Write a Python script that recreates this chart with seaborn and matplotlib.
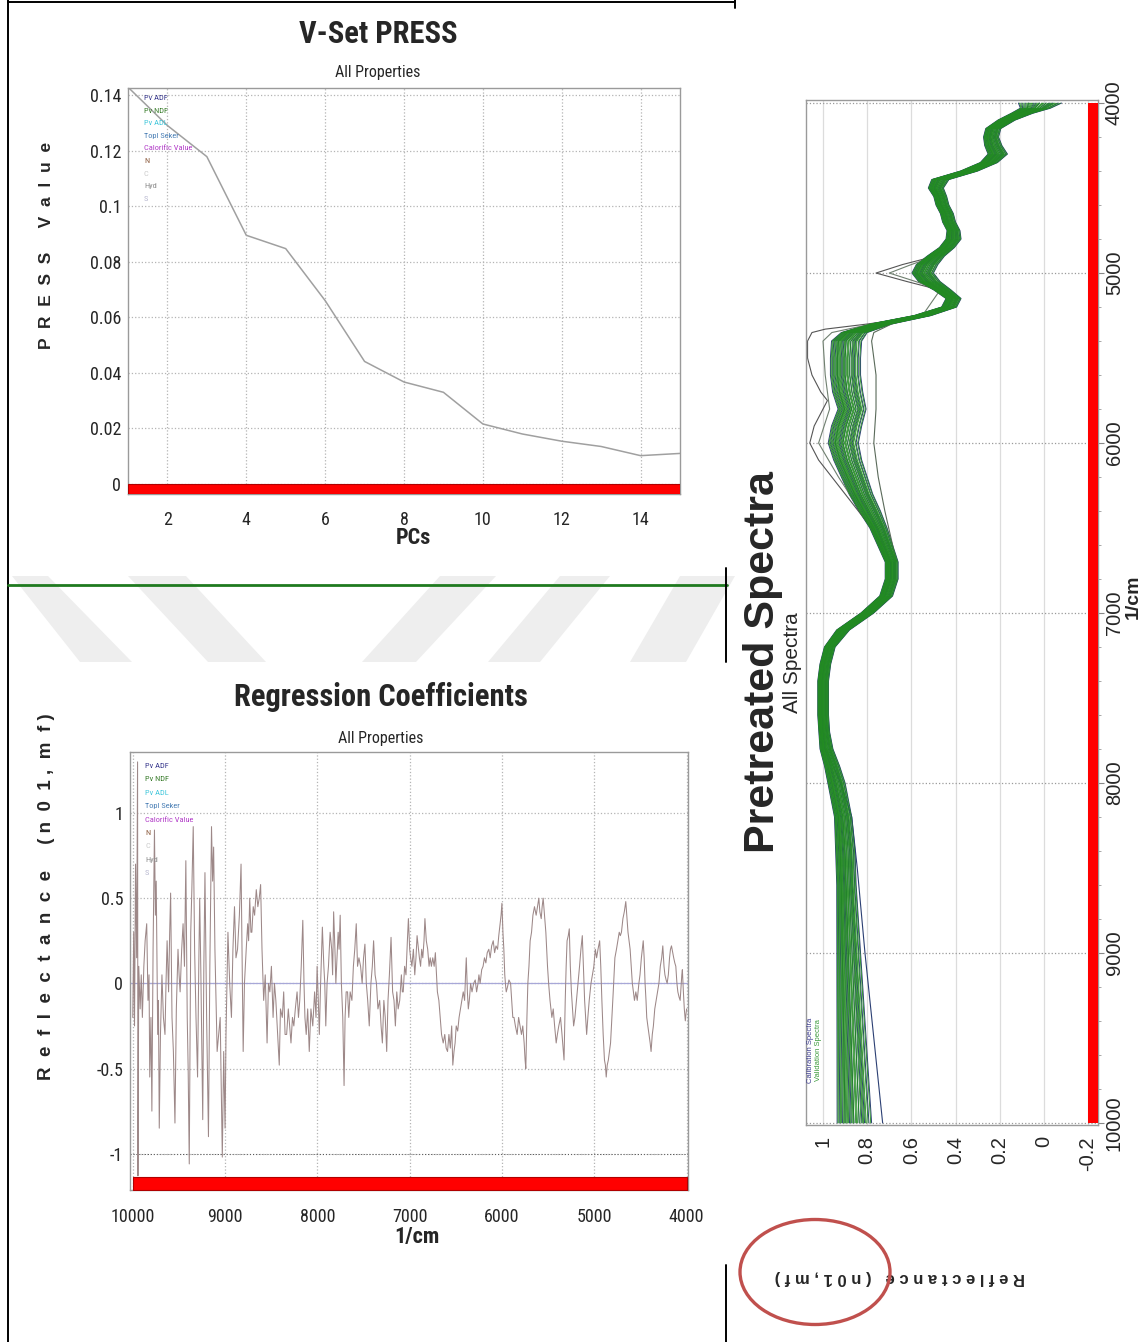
import os
import numpy as np
import pandas as pd
import matplotlib
matplotlib.use("Agg")
import matplotlib.pyplot as plt
import seaborn as sns
from matplotlib import font_manager as fm
from matplotlib.lines import Line2D
from matplotlib.patches import Ellipse, Polygon
from matplotlib.ticker import MultipleLocator, FixedLocator, FuncFormatter

# ---------------- data ----------------
PCS = list(range(1, 16))
PRESS = [0.1428, 0.129, 0.1178, 0.0895, 0.0847, 0.066, 0.0441, 0.0367,
         0.033, 0.0216, 0.018, 0.0154, 0.0135, 0.0102, 0.011]

PROPERTY_NAMES = ["Pv ADF", "Pv NDF", "Pv ADL", "Topl Seker", "Calorific Value",
                  "N", "C", "Hyd", "S"]
PROPERTY_COLORS = ["#3b3b8f", "#3a7d2c", "#45c8dc", "#4a7fb5", "#b23cc8",
                   "#8b5a3c", "#cccccc", "#8c8c8c", "#b8b8d0"]

REG_WN = [
    10000, 9990, 9981, 9970, 9958, 9948, 9944, 9935, 9920, 9908,
    9896, 9880, 9866, 9849, 9835, 9824, 9816, 9803, 9793, 9780,
    9765, 9755, 9746, 9730, 9722, 9713, 9700, 9684, 9668, 9651,
    9640, 9628, 9612, 9600, 9590, 9575, 9560, 9543, 9528, 9510,
    9498, 9487, 9470, 9455, 9440, 9425, 9410, 9400, 9388, 9372,
    9360, 9345, 9330, 9315, 9298, 9285, 9275, 9262, 9242, 9230,
    9218, 9200, 9180, 9165, 9147, 9135, 9124, 9110, 9098, 9086,
    9070, 9053, 9042, 9030, 9015, 9000, 8990, 8980, 8969, 8950,
    8931, 8915, 8898, 8882, 8865, 8845, 8827, 8815, 8804, 8790,
    8771, 8755, 8745, 8733, 8720, 8710, 8695, 8680, 8662, 8645,
    8630, 8615, 8600, 8582, 8565, 8545, 8530, 8515, 8498, 8480,
    8465, 8450, 8430, 8413, 8400, 8380, 8365, 8350, 8333, 8315,
    8300, 8286, 8270, 8255, 8239, 8220, 8205, 8191, 8175, 8158,
    8145, 8135, 8121, 8105, 8088, 8070, 8050, 8030, 8015, 8003,
    7990, 7979, 7965, 7946, 7930, 7920, 7909, 7895, 7880, 7862,
    7845, 7835, 7824, 7810, 7800, 7791, 7775, 7765, 7753, 7740,
    7725, 7711, 7700, 7688, 7673, 7660, 7645, 7626, 7610, 7595,
    7579, 7565, 7550, 7532, 7515, 7500, 7485, 7470, 7455, 7438,
    7420, 7405, 7391, 7375, 7360, 7344, 7325, 7310, 7296, 7280,
    7265, 7249, 7235, 7220, 7202, 7185, 7170, 7155, 7140, 7125,
    7108, 7090, 7080, 7070, 7055, 7040, 7025, 7014, 7000, 6990,
    6976, 6960, 6945, 6932, 6920, 6905, 6895, 6882, 6870, 6858,
    6845, 6835, 6820, 6805, 6790, 6778, 6765, 6750, 6735, 6722,
    6710, 6700, 6684, 6670, 6655, 6637, 6620, 6605, 6590, 6575,
    6560, 6545, 6533, 6520, 6508, 6496, 6480, 6465, 6449, 6435,
    6420, 6405, 6395, 6387, 6375, 6365, 6354, 6340, 6325, 6307,
    6290, 6275, 6260, 6250, 6237, 6220, 6205, 6190, 6175, 6160,
    6143, 6128, 6112, 6095, 6080, 6065, 6048, 6035, 6020, 6010,
    6001, 5990, 5980, 5970, 5960, 5954, 5940, 5925, 5907, 5895,
    5883, 5870, 5855, 5836, 5820, 5805, 5789, 5775, 5760, 5750,
    5742, 5730, 5720, 5708, 5695, 5680, 5665, 5648, 5630, 5615,
    5601, 5590, 5575, 5565, 5554, 5540, 5525, 5507, 5495, 5480,
    5460, 5445, 5430, 5413, 5400, 5385, 5366, 5350, 5338, 5328,
    5315, 5305, 5295, 5282, 5271, 5260, 5248, 5236, 5224, 5210,
    5195, 5177, 5160, 5145, 5130, 5118, 5105, 5094, 5083, 5070,
    5055, 5036, 5020, 5005, 4989, 4975, 4960, 4942, 4930, 4918,
    4904, 4890, 4880, 4871, 4860, 4848, 4836, 4824, 4810, 4795,
    4777, 4760, 4745, 4730, 4718, 4706, 4690, 4675, 4659, 4648,
    4635, 4624, 4612, 4600, 4588, 4576, 4565, 4550, 4535, 4517,
    4505, 4490, 4480, 4470, 4460, 4450, 4440, 4432, 4420, 4408,
    4395, 4385, 4372, 4360, 4345, 4329, 4315, 4300, 4285, 4270,
    4258, 4245, 4235, 4222, 4211, 4198, 4185, 4175, 4164, 4150,
    4140, 4128, 4117, 4105, 4095, 4082, 4070, 4060, 4052, 4046,
    4035, 4025, 4014, 4007, 4000,
]
REG_COEF = [
    -0.20, 0.30, -0.25, 0.70, 0.15, 1.30, -1.13, 0.10, -0.15, 0.05,
    -0.20, 0.10, 0.25, 0.35, -0.10, 0.05, -0.55, -0.20, -0.75, 0.20,
    0.90, 0.40, 0.60, -0.30, -0.10, -0.85, -0.30, 0.05, -0.20, -0.30,
    0.00, 0.25, -0.05, 0.30, 0.53, -0.20, -0.40, -0.82, -0.15, 0.20,
    0.05, -0.05, 0.20, 0.35, 0.10, 0.72, -0.20, -0.50, -1.06, 0.30,
    0.55, 0.92, 0.20, -0.20, -0.55, 0.10, 0.50, 0.05, -0.80, 0.10,
    0.65, -0.20, -0.90, 0.10, 0.92, 0.60, 0.80, 0.20, -0.10, -0.40,
    -0.30, -0.20, -0.60, -1.02, -0.40, -0.85, -0.30, 0.00, 0.30, 0.00,
    -0.20, 0.20, 0.45, 0.15, 0.20, 0.40, 0.70, 0.10, -0.40, 0.00,
    0.20, 0.35, 0.25, 0.50, 0.30, 0.30, 0.45, 0.40, 0.55, 0.45,
    0.50, 0.58, 0.20, -0.10, 0.05, -0.35, 0.00, -0.05, 0.10, -0.20,
    0.00, -0.10, -0.30, -0.48, -0.15, -0.20, -0.05, -0.30, -0.30, -0.15,
    -0.25, -0.35, -0.20, -0.25, -0.15, -0.05, -0.20, -0.10, 0.10, 0.37,
    0.00, -0.20, -0.30, -0.15, -0.40, -0.15, -0.25, -0.05, -0.20, 0.10,
    -0.10, -0.30, 0.00, 0.33, 0.10, 0.00, -0.25, 0.00, 0.10, 0.30,
    0.20, 0.05, 0.42, 0.20, 0.00, 0.10, 0.30, 0.20, 0.40, 0.00,
    -0.20, -0.60, -0.20, -0.05, -0.05, -0.20, -0.05, -0.10, 0.10, 0.20,
    0.35, 0.10, 0.15, 0.10, 0.00, 0.15, 0.23, 0.00, -0.10, -0.25,
    0.00, 0.10, 0.25, 0.05, 0.00, -0.15, -0.10, -0.25, -0.35, -0.10,
    -0.20, -0.40, -0.10, 0.05, 0.27, -0.05, -0.10, -0.25, -0.05, -0.15,
    -0.10, 0.05, -0.05, -0.05, 0.10, 0.05, 0.25, 0.38, 0.20, 0.15,
    0.10, 0.20, 0.05, 0.15, 0.28, 0.20, 0.15, 0.10, 0.20, 0.15,
    0.25, 0.38, 0.25, 0.20, 0.10, 0.15, 0.10, 0.15, 0.10, 0.18,
    0.05, -0.05, -0.10, -0.20, -0.30, -0.35, -0.30, -0.38, -0.40, -0.30,
    -0.38, -0.25, -0.48, -0.40, -0.35, -0.25, -0.28, -0.20, -0.15, -0.10,
    -0.05, -0.10, 0.05, 0.15, -0.05, -0.15, -0.10, 0.00, -0.05, 0.00,
    0.02, -0.05, 0.00, 0.05, 0.00, 0.08, 0.10, 0.15, 0.12, 0.18,
    0.20, 0.15, 0.22, 0.25, 0.18, 0.22, 0.20, 0.28, 0.35, 0.40,
    0.47, 0.30, 0.20, 0.05, -0.02, -0.05, -0.02, 0.02, 0.00, -0.10,
    -0.20, -0.20, -0.25, -0.30, -0.20, -0.25, -0.30, -0.25, -0.35, -0.45,
    -0.50, -0.20, 0.00, 0.10, 0.25, 0.30, 0.40, 0.45, 0.40, 0.45,
    0.50, 0.42, 0.38, 0.45, 0.50, 0.40, 0.30, 0.10, 0.00, -0.10,
    -0.20, -0.15, -0.25, -0.35, -0.30, -0.25, -0.20, -0.30, -0.38, -0.45,
    -0.10, 0.10, 0.25, 0.28, 0.32, 0.10, -0.05, -0.15, -0.25, -0.20,
    -0.10, 0.00, 0.10, 0.20, 0.28, 0.10, -0.10, -0.20, -0.30, -0.20,
    -0.10, 0.00, 0.05, 0.10, 0.20, 0.15, 0.20, 0.25, 0.10, -0.10,
    -0.30, -0.45, -0.48, -0.55, -0.48, -0.45, -0.40, -0.35, -0.20, -0.05,
    0.15, 0.20, 0.25, 0.30, 0.28, 0.30, 0.38, 0.42, 0.48, 0.40,
    0.30, 0.25, 0.20, 0.10, 0.00, -0.05, -0.10, -0.05, -0.10, 0.00,
    0.05, 0.15, 0.20, 0.25, 0.15, 0.00, -0.10, -0.20, -0.25, -0.30,
    -0.35, -0.40, -0.30, -0.25, -0.15, -0.10, -0.05, 0.00, 0.10, 0.15,
    0.22, 0.10, 0.05, 0.02, 0.00, 0.05, 0.15, 0.20, 0.22, 0.18,
    0.15, 0.12, 0.10, 0.00, -0.05, -0.08, -0.10, -0.02, 0.05, 0.08,
    -0.05, -0.15, -0.22, -0.18, -0.15,
]

# pretreated spectra: band centre and half-width per wavenumber
SPEC_WN = [4000, 4030, 4060, 4100, 4150, 4200, 4250, 4300, 4350, 4400,
           4450, 4500, 4550, 4600, 4650, 4700, 4750, 4800, 4850, 4900,
           4950, 5000, 5050, 5100, 5150, 5200, 5250, 5300, 5350, 5400,
           5500, 5600, 5700, 5800, 5900, 6000, 6100, 6200, 6300, 6400,
           6500, 6600, 6700, 6800, 6900, 7000, 7100, 7200, 7300, 7400,
           7500, 7600, 7700, 7800, 7900, 8000, 8200, 8400, 8600, 8800,
           9000, 9200, 9400, 9600, 9800, 10000]
SPEC_CENTER = [0.02, 0.04, 0.10, 0.17, 0.23, 0.24, 0.23, 0.21, 0.25, 0.34,
               0.47, 0.49, 0.47, 0.46, 0.44, 0.43, 0.41, 0.41, 0.44, 0.49,
               0.53, 0.55, 0.52, 0.46, 0.41, 0.43, 0.55, 0.74, 0.86, 0.895,
               0.90, 0.90, 0.89, 0.87, 0.895, 0.91, 0.89, 0.86, 0.83, 0.79,
               0.75, 0.72, 0.69, 0.69, 0.715, 0.80, 0.91, 0.97, 0.99, 1.00,
               1.00, 1.00, 0.995, 0.985, 0.96, 0.94, 0.91, 0.90, 0.895, 0.89,
               0.885, 0.88, 0.875, 0.87, 0.865, 0.86]
SPEC_HALF = [0.10, 0.07, 0.05, 0.04, 0.035, 0.035, 0.04, 0.045, 0.04, 0.04,
             0.04, 0.035, 0.03, 0.03, 0.03, 0.03, 0.03, 0.035, 0.035, 0.04,
             0.05, 0.05, 0.05, 0.04, 0.035, 0.035, 0.04, 0.05, 0.06, 0.07,
             0.07, 0.07, 0.07, 0.065, 0.07, 0.07, 0.065, 0.06, 0.055, 0.05,
             0.04, 0.035, 0.03, 0.03, 0.03, 0.03, 0.03, 0.025, 0.025, 0.025,
             0.025, 0.025, 0.025, 0.03, 0.035, 0.04, 0.04, 0.045, 0.045, 0.05,
             0.055, 0.06, 0.065, 0.07, 0.075, 0.08]
# position of each sample inside the band (-1 .. 1)
CAL_POS = [-1.0, -0.85, -0.6, -0.3, 0.0, 0.25, 0.5, 0.8, 0.95, -0.45, 0.15, 0.65]
VAL_POS = [-0.95, -0.8, -0.7, -0.55, -0.4, -0.3, -0.2, -0.1, 0.0, 0.05, 0.1,
           0.2, 0.3, 0.35, 0.4, 0.5, 0.6, 0.7, 0.75, 0.85, 0.9, -0.65, -0.15,
           0.45, -0.5, 0.55]

# individual spectra that leave the band
OUT_A_WN = [4900, 4950, 5000, 5050, 5100, 5150, 5200, 5250, 5300, 5330, 5350,
            5400, 5500, 5600, 5700, 5750, 5800, 5900, 6000, 6100, 6200, 6300,
            6400, 6500, 6600]
OUT_A_REFL = [0.49, 0.64, 0.76, 0.62, 0.47, 0.40, 0.41, 0.52, 0.80, 0.99, 1.05,
              1.07, 1.07, 1.05, 1.01, 0.98, 1.00, 1.04, 1.06, 1.02, 0.96, 0.90,
              0.84, 0.78, 0.73]
OUT_B_WN = [4900, 4950, 5000, 5050, 5100, 5250, 5300, 5350, 5400, 5600, 5800,
            6000, 6200, 6400, 6500]
OUT_B_REFL = [0.49, 0.60, 0.70, 0.58, 0.47, 0.55, 0.78, 0.96, 1.00, 0.99, 0.97,
              1.02, 0.93, 0.83, 0.77]
OUT_C_WN = [5250, 5300, 5350, 5400, 5600, 5800, 6000, 6200, 6400, 6600, 6700]
OUT_C_REFL = [0.55, 0.69, 0.77, 0.78, 0.76, 0.76, 0.77, 0.75, 0.72, 0.685, 0.67]
OUT_D_WN = [7800, 7900, 8000, 8200, 8500, 9000, 9500, 10000]
OUT_D_REFL = [0.985, 0.955, 0.92, 0.87, 0.845, 0.81, 0.77, 0.73]

SPECTRA_LEGEND = ["Calibration Spectra", "Validation Spectra"]

# ---------------- style ----------------
sns.set_style("white")
plt.rcParams["font.family"] = ["Liberation Sans", "DejaVu Sans"]


def find_condensed(weight):
    cands = [("Liberation Sans Narrow", "normal"), ("Arial Narrow", "normal"),
             ("Roboto Condensed", "normal"), ("Open Sans Condensed", "normal"),
             ("DejaVu Sans", "condensed"), ("Noto Sans", "condensed"),
             ("Open Sans", "condensed"), ("Roboto", "condensed"), ("Inter", "condensed")]
    for fam, st in cands:
        try:
            path = fm.findfont(fm.FontProperties(family=fam, stretch=st, weight=weight),
                               fallback_to_default=False)
        except Exception:
            continue
        base = os.path.basename(path).lower()
        if "narrow" in base or "cond" in base:
            return path
    return None


NARROW_REG = find_condensed("normal")
NARROW_BOLD = find_condensed("bold") or NARROW_REG
SHRINK = 1.0 if NARROW_REG else 0.8


def nfont(size, bold=False):
    path = NARROW_BOLD if bold else NARROW_REG
    if path:
        fp = fm.FontProperties(fname=path)
    else:
        fp = fm.FontProperties(family="Liberation Sans",
                               weight="bold" if bold else "normal")
    fp.set_size(size * SHRINK)
    return fp


W, H = 1141, 1342
fig = plt.figure(figsize=(W / 100, H / 100), dpi=100)
fig.patch.set_facecolor("white")


def fx(x):
    return x / W


def fy(y):
    return 1 - y / H


def axes_px(left, top, right, bottom):
    return fig.add_axes([fx(left), fy(bottom), (right - left) / W, (bottom - top) / H])


RED = "#ff0000"
FRAME = "#9a9a9a"
GRID = "#b4b4b4"

# page decoration: watermark stripes and rules
for poly in [[(12, 576), (48, 576), (132, 662), (80, 662)],
             [(128, 576), (186, 576), (266, 662), (208, 662)],
             [(440, 576), (496, 576), (416, 662), (362, 662)],
             [(560, 576), (610, 576), (540, 662), (488, 662)],
             [(680, 576), (735, 576), (686, 662), (630, 662)]]:
    fig.add_artist(Polygon([(fx(a), fy(b)) for a, b in poly], closed=True,
                           transform=fig.transFigure, facecolor="#eeeeee",
                           edgecolor="none", zorder=-5))


def rule(x0, y0, x1, y1, color="black", lw=1.4):
    fig.add_artist(Line2D([fx(x0), fx(x1)], [fy(y0), fy(y1)], transform=fig.transFigure,
                          color=color, lw=lw, zorder=5))


rule(8, 2, 735, 2)
rule(735, 0, 735, 8)
rule(8, 0, 8, H)
rule(8, 585, 727, 585, color="#1f7a1f", lw=2)
rule(726, 568, 726, 662)
rule(726, 1265, 726, H)


def style_frame(ax):
    for s in ax.spines.values():
        s.set_color(FRAME)
        s.set_linewidth(1.0)


def narrow_ticks(ax, size):
    for t in ax.get_xticklabels() + ax.get_yticklabels():
        t.set_fontproperties(nfont(size))


gfmt = FuncFormatter(lambda v, _: f"{round(v, 6):g}")

# ---------------- V-Set PRESS ----------------
ax1 = axes_px(128, 88, 680, 494)
sns.lineplot(x=PCS, y=PRESS, ax=ax1, color="#a0a0a0", lw=1.1)
ax1.set_xlim(1, 15)
ax1.set_ylim(-0.0036, 0.1425)
ax1.axhspan(-0.0036, 0.0, facecolor=RED, edgecolor="#b00000", lw=0.8, zorder=3)
ax1.xaxis.set_major_locator(FixedLocator(list(range(2, 15, 2))))
ax1.xaxis.set_minor_locator(MultipleLocator(0.5))
ax1.yaxis.set_major_locator(MultipleLocator(0.02))
ax1.yaxis.set_minor_locator(MultipleLocator(0.004))
ax1.yaxis.set_major_formatter(gfmt)
ax1.grid(True, which="major", ls=":", color=GRID, lw=0.9)
ax1.tick_params(which="major", length=3, color="#888888", pad=2)
ax1.tick_params(axis="x", which="major", pad=9)
ax1.tick_params(which="minor", length=2, color="#999999")
style_frame(ax1)
ax1.set_xlabel("")
ax1.set_ylabel("")
narrow_ticks(ax1, 13)
for i, (nm, c) in enumerate(zip(PROPERTY_NAMES, PROPERTY_COLORS)):
    fig.text(fx(144), fy(98 + 12.6 * i), nm, fontproperties=nfont(6), color=c,
             va="center", ha="left")

fig.text(fx(378), fy(34), "V-Set PRESS", fontproperties=nfont(22, True),
         ha="center", va="center")
fig.text(fx(378), fy(73), "All Properties", fontproperties=nfont(11.5),
         ha="center", va="center")
fig.text(fx(413), fy(538), "PCs", fontproperties=nfont(16, True),
         ha="center", va="center")
fig.text(fx(47), fy(245), "P  R  E  S  S     V  a  l  u  e", fontsize=12.5,
         fontweight="bold", rotation=90, ha="center", va="center")

# ---------------- Regression Coefficients ----------------
ax2 = axes_px(130, 752, 688, 1190)
ax2.axhline(0, color="#a8a8d8", lw=0.9, zorder=1)
ax2.axhline(-1, color="#555555", lw=0.7, ls=(0, (1, 2)), zorder=1)
sns.lineplot(x=REG_WN, y=REG_COEF, ax=ax2, color="#9d8888", lw=0.75, zorder=2)
ax2.set_xlim(10030, 3985)
ax2.set_ylim(-1.213, 1.358)
ax2.fill_between([10000, 4000], -1.213, -1.137, facecolor=RED, edgecolor="#b00000",
                 lw=0.8, zorder=3)
ax2.xaxis.set_major_locator(MultipleLocator(1000))
ax2.xaxis.set_minor_locator(MultipleLocator(200))
ax2.yaxis.set_major_locator(FixedLocator([-1, -0.5, 0, 0.5, 1]))
ax2.yaxis.set_minor_locator(MultipleLocator(0.1))
ax2.yaxis.set_major_formatter(gfmt)
ax2.xaxis.set_major_formatter(FuncFormatter(lambda v, _: f"{int(round(v))}"))
ax2.grid(True, which="major", ls=":", color=GRID, lw=0.9)
ax2.tick_params(which="major", length=3, color="#888888", pad=2)
ax2.tick_params(axis="x", which="major", pad=10)
ax2.tick_params(which="minor", length=2, color="#999999")
style_frame(ax2)
ax2.set_xlabel("")
ax2.set_ylabel("")
narrow_ticks(ax2, 13)
for i, (nm, c) in enumerate(zip(PROPERTY_NAMES, PROPERTY_COLORS)):
    fig.text(fx(145), fy(766 + 13.4 * i), nm, fontproperties=nfont(6), color=c,
             va="center", ha="left")

fig.text(fx(381), fy(697), "Regression Coefficients", fontproperties=nfont(22, True),
         ha="center", va="center")
fig.text(fx(381), fy(739), "All Properties", fontproperties=nfont(11.5),
         ha="center", va="center")
fig.text(fx(417), fy(1237), "1/cm", fontproperties=nfont(16, True),
         ha="center", va="center")
fig.text(fx(47), fy(897), "R  e  f  l  e  c  t  a  n  c  e     ( n  0  1 ,  m  f )",
         fontsize=13.5, fontweight="bold", rotation=90, ha="center", va="center")

# ---------------- Pretreated Spectra (turned on its side) ----------------
ax3 = axes_px(806, 100, 1098, 1125)
wn = np.array(SPEC_WN, dtype=float)
cen = np.array(SPEC_CENTER)
half = np.array(SPEC_HALF)


def band_frame(positions, tag):
    rows = []
    for k, p in enumerate(positions):
        rows.append(pd.DataFrame({"wn": wn, "refl": cen + p * half,
                                  "sample": f"{tag}{k}"}))
    return pd.concat(rows, ignore_index=True)


cal = band_frame(CAL_POS, "c")
val = band_frame(VAL_POS, "v")
sns.lineplot(data=cal, x="refl", y="wn", units="sample", estimator=None, orient="y",
             color="#2b3f73", lw=0.7, ax=ax3, zorder=2)
sns.lineplot(data=val, x="refl", y="wn", units="sample", estimator=None, orient="y",
             color="#228b22", lw=0.6, ax=ax3, zorder=3)
for w_, r_, c_ in [(OUT_A_WN, OUT_A_REFL, "#555555"), (OUT_B_WN, OUT_B_REFL, "#6f7f6f"),
                   (OUT_C_WN, OUT_C_REFL, "#5a6a5a"), (OUT_D_WN, OUT_D_REFL, "#2b3f73")]:
    sns.lineplot(x=r_, y=w_, orient="y", color=c_, lw=0.8, ax=ax3, zorder=2)

ax3.set_xlim(1.077, -0.245)
ax3.set_ylim(10012, 3982)
ax3.fill_betweenx([4000, 10000], -0.2, -0.245, facecolor=RED, edgecolor="none", zorder=4)
ax3.xaxis.set_major_locator(FixedLocator([1, 0.8, 0.6, 0.4, 0.2, 0, -0.2]))
ax3.xaxis.set_minor_locator(MultipleLocator(0.04))
ax3.xaxis.set_major_formatter(gfmt)
ax3.yaxis.set_major_locator(MultipleLocator(1000))
ax3.yaxis.set_minor_locator(MultipleLocator(200))
ax3.yaxis.set_major_formatter(FuncFormatter(lambda v, _: f"{int(round(v))}"))
ax3.yaxis.tick_right()
ax3.grid(True, axis="x", which="major", ls="-", color="#dcdcdc", lw=0.9)
ax3.grid(True, axis="y", which="major", ls=":", color="#9a9a9a", lw=0.9)
ax3.tick_params(which="major", length=4, color="#888888", labelsize=14.5)
ax3.tick_params(which="minor", length=2.5, color="#999999")
ax3.tick_params(axis="x", which="major", labelrotation=90, pad=4)
ax3.tick_params(axis="y", which="major", labelrotation=90, pad=1)
for t in ax3.get_yticklabels():
    t.set_va("center")
style_frame(ax3)
ax3.set_xlabel("")
ax3.set_ylabel("")

fig.text(fx(763), fy(662), "Pretreated Spectra", fontsize=31, fontweight="bold",
         rotation=90, ha="center", va="center")
fig.text(fx(792), fy(663), "All Spectra", fontsize=15, rotation=90,
         ha="center", va="center")
fig.text(fx(1133), fy(597), "1/cm", fontsize=14, fontweight="bold", rotation=90,
         ha="center", va="center")
fig.text(fx(810), fy(1050), SPECTRA_LEGEND[0], fontsize=5.5, color="#3b3b8f",
         rotation=90, ha="center", va="center")
fig.text(fx(818), fy(1050), SPECTRA_LEGEND[1], fontsize=5.5, color="#3a9a3a",
         rotation=90, ha="center", va="center")
fig.text(fx(900), fy(1277), "R e f l e c t a n c e   ( n 0 1 , m f )", fontsize=12,
         fontweight="bold", rotation=180, ha="center", va="center")
fig.add_artist(Ellipse((fx(815), fy(1272)), 150 / W, 105 / H, transform=fig.transFigure,
                       facecolor="none", edgecolor="#c0504d", lw=2.4, zorder=6))

fig.savefig("out.png", dpi=100, facecolor="white")
